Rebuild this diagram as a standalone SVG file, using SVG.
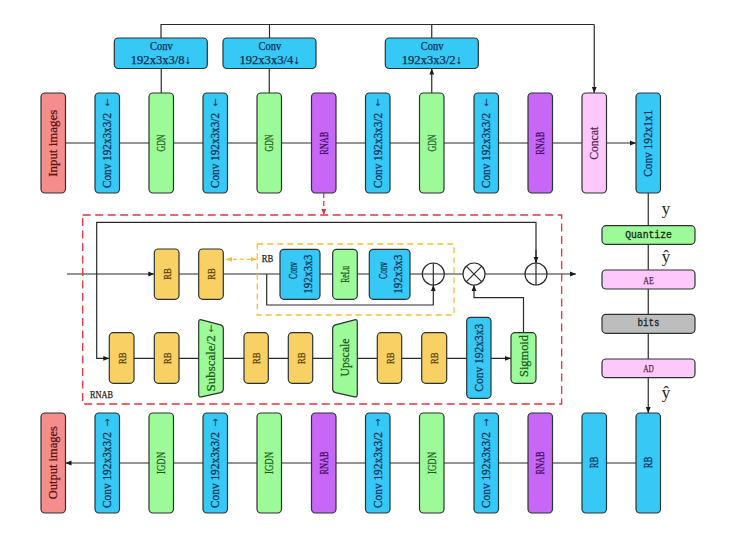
<svg xmlns="http://www.w3.org/2000/svg" width="740" height="557" viewBox="0 0 740 557">
<style>
.n{stroke:#2b3333;stroke-width:1.2}
.blue{fill:#36c9f6}.green{fill:#9cfb98}.purple{fill:#c866f5}.salmon{fill:#f58d8d}.pink{fill:#fcc9fa}.yel{fill:#f8d063}.gray{fill:#bdbdbd}
text{font-family:"Liberation Serif","DejaVu Serif",serif;text-anchor:middle;dominant-baseline:central;stroke-width:0.25px}
.tb{fill:#0a2f55;stroke:#0a2f55;font-size:11.5px}
.tg{fill:#1c5a1c;stroke:#1c5a1c;font-size:11.5px}
.tp{fill:#3f0a5a;stroke:#3f0a5a;font-size:11.5px}
.ts{fill:#5a1414;stroke:#5a1414;font-size:12px}
.tk{fill:#5a1f5a;stroke:#5a1f5a;font-size:12px}
.ty{fill:#5a3e0a;stroke:#5a3e0a;font-size:11px}
.ar{font-size:10px;font-family:"DejaVu Sans",sans-serif;stroke:none}
.mono{font-family:"Liberation Mono","DejaVu Sans Mono",monospace;font-size:10px;fill:#1a2a1a;stroke:#1a2a1a;stroke-width:0.3px}
.lbl{fill:#222;stroke:#222;font-size:11px}
.sym{font-size:17px;fill:#222;stroke:none}
.c{fill:none;stroke:#2b2b2b;stroke-width:1.2}
.ca{fill:none;stroke:#2b2b2b;stroke-width:1.2;marker-end:url(#a)}
.red{fill:none;stroke:#e8323c;stroke-width:1.3;stroke-dasharray:8 4.5}
.ylw{fill:none;stroke:#f2c12e;stroke-width:1.3;stroke-dasharray:6 4}
</style>
<defs>
<marker id="a" viewBox="0 0 10 10" refX="10" refY="5" markerWidth="6" markerHeight="6" markerUnits="userSpaceOnUse" orient="auto"><path d="M0,1L10,5L0,9z" fill="#1a1a1a"/></marker>
<marker id="ar" viewBox="0 0 10 10" refX="10" refY="5" markerWidth="6" markerHeight="6" markerUnits="userSpaceOnUse" orient="auto"><path d="M0,1L10,5L0,9z" fill="#e8323c"/></marker>
<marker id="ay" viewBox="0 0 10 10" refX="10" refY="5" markerWidth="6" markerHeight="6" markerUnits="userSpaceOnUse" orient="auto-start-reverse"><path d="M0,1L10,5L0,9z" fill="#f2c12e"/></marker>
</defs>
<rect width="740" height="557" fill="#fff"/>

<g id="connectors">
<path class="ca" d="M65.5 143H95M119.5 143H149M173.5 143H203M227.5 143H257M281.5 143H311.5M336 143H365.5M390 143H419.5M444 143H474M498.5 143H528M552.5 143H582M606.5 143H636"/>
<path class="ca" d="M161.25 93V68.5M269.25 93V68.5M431.75 93V68.5"/>
<path class="c" d="M161 38V24.5H594.25M269.5 38V24.5M431.75 38V24.5"/>
<path class="ca" d="M594.25 24.5V93"/>
<path class="ca" d="M648.25 193V225.7M648.25 244.3V270M648.25 289V314.3M648.25 333.3V359M648.25 377.7V413"/>
<path class="ca" d="M636 463H606.5M582 463H552.5M528 463H498.5M474 463H444M419.5 463H390M365.5 463H336M311.5 463H281.5M257 463H227.5M203 463H173.5M149 463H119.5M95 463H65.5"/>
<path d="M323.75 193V215" fill="none" stroke="#e8323c" stroke-width="1.3" stroke-dasharray="5 3" marker-end="url(#ar)"/>
<path class="c" d="M96.7 274V222.3H536V263"/>
<path class="ca" d="M536 250V263"/>
<path class="ca" d="M67 274H154.3"/>
<path class="ca" d="M96.7 274V358.3H109.3"/>
<path class="ca" d="M179 274H198.7M223.3 274H280M320 274H332.7M357.3 274H369.3M410 274H422.3M444.3 274H463M485 274H525M547 274H576"/>
<path class="ca" d="M266.7 274V305H433.3V285"/>
<path class="ca" d="M523.5 332.7V297.7H474V285"/>
<path class="ca" d="M134 358.3H154.3M179 358.3H198.7M223.3 358.3H244M268.3 358.3H288.3M312.7 358.3H332.7M357.3 358.3H377.3M401.7 358.3H421.7M446.7 358.3H466.7M491 358.3H511"/>
<path d="M226 259.3H256.5" fill="none" stroke="#f2c12e" stroke-width="1.3" stroke-dasharray="4 3" marker-start="url(#ay)" marker-end="url(#ay)"/>
</g>

<g id="rnab-detail">
<rect class="red" x="82.7" y="215" width="479" height="189"/>
<text class="lbl" x="101.5" y="394" textLength="23" lengthAdjust="spacingAndGlyphs">RNAB</text>
<rect class="ylw" x="257.3" y="244" width="196.7" height="71"/>
<text class="lbl" x="267.5" y="257.5" textLength="11.6" lengthAdjust="spacingAndGlyphs">RB</text>
</g>

<g id="input"><rect class="n salmon" x="41" y="93" width="24.5" height="100" rx="4"/><text class="ts" transform="translate(53.25 143.3) rotate(-90)" textLength="67" lengthAdjust="spacingAndGlyphs">Input images</text></g>
<g id="enc-conv1"><rect class="n blue" x="95" y="93" width="24.5" height="100" rx="4"/><text class="tb" transform="translate(107.25 150.5) rotate(-90)" textLength="75" lengthAdjust="spacingAndGlyphs">Conv 192x3x3/2</text><text class="tb ar" x="107.25" y="102">↓</text></g>
<g id="enc-gdn1"><rect class="n green" x="149" y="93" width="24.5" height="100" rx="4"/><text class="tg" transform="translate(161.25 143) rotate(-90)" textLength="17" lengthAdjust="spacingAndGlyphs">GDN</text></g>
<g id="enc-conv2"><rect class="n blue" x="203" y="93" width="24.5" height="100" rx="4"/><text class="tb" transform="translate(215.25 150.5) rotate(-90)" textLength="75" lengthAdjust="spacingAndGlyphs">Conv 192x3x3/2</text><text class="tb ar" x="215.25" y="102">↓</text></g>
<g id="enc-gdn2"><rect class="n green" x="257" y="93" width="24.5" height="100" rx="4"/><text class="tg" transform="translate(269.25 143) rotate(-90)" textLength="17" lengthAdjust="spacingAndGlyphs">GDN</text></g>
<g id="enc-rnab1"><rect class="n purple" x="311.5" y="93" width="24.5" height="100" rx="4"/><text class="tp" transform="translate(323.75 143.3) rotate(-90)" textLength="23" lengthAdjust="spacingAndGlyphs">RNAB</text></g>
<g id="enc-conv3"><rect class="n blue" x="365.5" y="93" width="24.5" height="100" rx="4"/><text class="tb" transform="translate(377.75 150.5) rotate(-90)" textLength="75" lengthAdjust="spacingAndGlyphs">Conv 192x3x3/2</text><text class="tb ar" x="377.75" y="102">↓</text></g>
<g id="enc-gdn3"><rect class="n green" x="419.5" y="93" width="24.5" height="100" rx="4"/><text class="tg" transform="translate(431.75 143) rotate(-90)" textLength="17" lengthAdjust="spacingAndGlyphs">GDN</text></g>
<g id="enc-conv4"><rect class="n blue" x="474" y="93" width="24.5" height="100" rx="4"/><text class="tb" transform="translate(486.25 150.5) rotate(-90)" textLength="75" lengthAdjust="spacingAndGlyphs">Conv 192x3x3/2</text><text class="tb ar" x="486.25" y="102">↓</text></g>
<g id="enc-rnab2"><rect class="n purple" x="528" y="93" width="24.5" height="100" rx="4"/><text class="tp" transform="translate(540.25 143.3) rotate(-90)" textLength="23" lengthAdjust="spacingAndGlyphs">RNAB</text></g>
<g id="concat"><rect class="n pink" x="582" y="93" width="24.5" height="100" rx="4"/><text class="tk" transform="translate(594.25 143.3) rotate(-90)" textLength="33" lengthAdjust="spacingAndGlyphs">Concat</text></g>
<g id="enc-conv1x1"><rect class="n blue" x="636" y="93" width="24.5" height="100" rx="4"/><text class="tb" transform="translate(648.25 143.3) rotate(-90)" style="font-size:12px" textLength="67" lengthAdjust="spacingAndGlyphs">Conv 192x1x1</text></g>

<g id="side-conv8"><rect class="n blue" x="114.3" y="38" width="93" height="30.5" rx="4"/><text class="tb" x="161.3" y="46.3" style="font-size:12px" textLength="22.7" lengthAdjust="spacingAndGlyphs">Conv</text><text class="tb" x="160.8" y="60" style="font-size:12px" textLength="60" lengthAdjust="spacingAndGlyphs">192x3x3/8↓</text></g>
<g id="side-conv4"><rect class="n blue" x="223" y="38" width="93" height="30.5" rx="4"/><text class="tb" x="269.8" y="46.3" style="font-size:12px" textLength="22.7" lengthAdjust="spacingAndGlyphs">Conv</text><text class="tb" x="269.5" y="60" style="font-size:12px" textLength="60" lengthAdjust="spacingAndGlyphs">192x3x3/4↓</text></g>
<g id="side-conv2"><rect class="n blue" x="385.3" y="38" width="93" height="30.5" rx="4"/><text class="tb" x="432.1" y="46.3" style="font-size:12px" textLength="22.7" lengthAdjust="spacingAndGlyphs">Conv</text><text class="tb" x="431.8" y="60" style="font-size:12px" textLength="60" lengthAdjust="spacingAndGlyphs">192x3x3/2↓</text></g>

<g id="quantize"><rect class="n green" x="602" y="225.7" width="93" height="18.6" rx="4"/><text class="mono" x="648.5" y="235" textLength="46.7" lengthAdjust="spacingAndGlyphs">Quantize</text></g>
<g id="ae"><rect class="n pink" x="602" y="270" width="93" height="19" rx="4"/><text class="tk" x="648.5" y="279.5" style="font-size:11px" textLength="10.5" lengthAdjust="spacingAndGlyphs">AE</text></g>
<g id="bits"><rect class="n gray" x="602" y="314.3" width="93" height="19" rx="4"/><text class="mono" x="648.5" y="323.8" textLength="22" lengthAdjust="spacingAndGlyphs">bits</text></g>
<g id="ad"><rect class="n pink" x="602" y="359" width="93" height="18.7" rx="4"/><text class="tk" x="648.5" y="368.4" style="font-size:11px" textLength="10.5" lengthAdjust="spacingAndGlyphs">AD</text></g>
<g id="labels"><text class="sym" x="666" y="208">y</text><text class="sym" x="666" y="256">ŷ</text><text class="sym" x="666" y="392">ŷ</text></g>

<g id="rb-t1"><rect class="n yel" x="154.3" y="249" width="24.7" height="50.3" rx="4"/><text class="ty" transform="translate(166.65 274) rotate(-90)" textLength="11.5" lengthAdjust="spacingAndGlyphs">RB</text></g>
<g id="rb-t2"><rect class="n yel" x="198.7" y="249" width="24.6" height="50.3" rx="4"/><text class="ty" transform="translate(211 274) rotate(-90)" textLength="11.5" lengthAdjust="spacingAndGlyphs">RB</text></g>
<g id="rb-conv1"><rect class="n blue" x="280" y="249.3" width="40" height="50" rx="4"/><text class="tb" transform="translate(293.3 270.5) rotate(-90)" style="font-size:12px" textLength="17" lengthAdjust="spacingAndGlyphs">Conv</text><text class="tb" transform="translate(308.3 274.3) rotate(-90)" style="font-size:12px" textLength="39" lengthAdjust="spacingAndGlyphs">192x3x3</text></g>
<g id="rb-relu"><rect class="n green" x="332.7" y="249.3" width="24.6" height="50" rx="4"/><text class="tg" transform="translate(345 274.3) rotate(-90)" style="font-size:11.5px" textLength="17" lengthAdjust="spacingAndGlyphs">ReLu</text></g>
<g id="rb-conv2"><rect class="n blue" x="369.3" y="249.3" width="40.7" height="50" rx="4"/><text class="tb" transform="translate(383 270.5) rotate(-90)" style="font-size:12px" textLength="17" lengthAdjust="spacingAndGlyphs">Conv</text><text class="tb" transform="translate(398 274.3) rotate(-90)" style="font-size:12px" textLength="39" lengthAdjust="spacingAndGlyphs">192x3x3</text></g>
<g id="add1"><circle class="c" cx="433.3" cy="274" r="11" fill="#fff"/><path class="c" d="M422.3 274H444.3M433.3 263V285"/></g>
<g id="mul"><circle class="c" cx="474" cy="274" r="11"/><path class="c" d="M466.2 266.2L481.8 281.8M481.8 266.2L466.2 281.8"/></g>
<g id="add2"><circle class="c" cx="536" cy="274" r="11"/><path class="c" d="M525 274H547M536 263V285"/></g>

<g id="rb-b1"><rect class="n yel" x="109.3" y="332.7" width="24.7" height="50.6" rx="4"/><text class="ty" transform="translate(121.65 358.3) rotate(-90)" textLength="11.5" lengthAdjust="spacingAndGlyphs">RB</text></g>
<g id="rb-b2"><rect class="n yel" x="154.3" y="332.7" width="24.7" height="50.6" rx="4"/><text class="ty" transform="translate(166.65 358.3) rotate(-90)" textLength="11.5" lengthAdjust="spacingAndGlyphs">RB</text></g>
<g id="subscale"><path class="n green" d="M198.7 322Q198.7 319 201.5 319.8L220.5 324.8Q223.3 325.5 223.3 328.5V389Q223.3 392 220.5 392.7L201.5 396.8Q198.7 397.4 198.7 394.5Z"/><text class="tg" transform="translate(211 363.4) rotate(-90)" style="font-size:12px" textLength="56" lengthAdjust="spacingAndGlyphs">Subscale/2</text><text class="tg ar" x="211" y="328.5">↓</text></g>
<g id="rb-b3"><rect class="n yel" x="244" y="332.7" width="24.3" height="50.6" rx="4"/><text class="ty" transform="translate(256.15 358.3) rotate(-90)" textLength="11.5" lengthAdjust="spacingAndGlyphs">RB</text></g>
<g id="rb-b4"><rect class="n yel" x="288.3" y="332.7" width="24.4" height="50.6" rx="4"/><text class="ty" transform="translate(300.5 358.3) rotate(-90)" textLength="11.5" lengthAdjust="spacingAndGlyphs">RB</text></g>
<g id="upscale"><path class="n green" d="M332.7 328.5Q332.7 325.5 335.5 324.8L354.5 319.8Q357.3 319 357.3 322V394.5Q357.3 397.4 354.5 396.8L335.5 392.7Q332.7 392 332.7 389Z"/><text class="tg" transform="translate(345 357.5) rotate(-90)" style="font-size:12px" textLength="38" lengthAdjust="spacingAndGlyphs">Upscale</text></g>
<g id="rb-b5"><rect class="n yel" x="377.3" y="332.7" width="24.4" height="50.6" rx="4"/><text class="ty" transform="translate(389.5 358.3) rotate(-90)" textLength="11.5" lengthAdjust="spacingAndGlyphs">RB</text></g>
<g id="rb-b6"><rect class="n yel" x="421.7" y="332.7" width="25" height="50.6" rx="4"/><text class="ty" transform="translate(434.2 358.3) rotate(-90)" textLength="11.5" lengthAdjust="spacingAndGlyphs">RB</text></g>
<g id="att-conv"><rect class="n blue" x="466.7" y="317.3" width="24.3" height="81" rx="4"/><text class="tb" transform="translate(478.85 357.7) rotate(-90)" style="font-size:12px" textLength="68" lengthAdjust="spacingAndGlyphs">Conv 192x3x3</text></g>
<g id="sigmoid"><rect class="n green" x="511" y="332.7" width="25" height="50.6" rx="4"/><text class="tg" transform="translate(523.5 356) rotate(-90)" style="font-size:11.5px" textLength="42" lengthAdjust="spacingAndGlyphs">Sigmoid</text></g>

<g id="output"><rect class="n salmon" x="41" y="413" width="24.5" height="100" rx="4"/><text class="ts" transform="translate(53.25 462.7) rotate(-90)" textLength="73" lengthAdjust="spacingAndGlyphs">Output images</text></g>
<g id="dec-conv1"><rect class="n blue" x="95" y="413" width="24.5" height="100" rx="4"/><text class="tb" transform="translate(107.25 470) rotate(-90)" textLength="76" lengthAdjust="spacingAndGlyphs">Conv 192x3x3/2</text><text class="tb ar" x="107.25" y="422">↑</text></g>
<g id="dec-igdn1"><rect class="n green" x="149" y="413" width="24.5" height="100" rx="4"/><text class="tg" transform="translate(161.25 463) rotate(-90)" textLength="22" lengthAdjust="spacingAndGlyphs">IGDN</text></g>
<g id="dec-conv2"><rect class="n blue" x="203" y="413" width="24.5" height="100" rx="4"/><text class="tb" transform="translate(215.25 470) rotate(-90)" textLength="76" lengthAdjust="spacingAndGlyphs">Conv 192x3x3/2</text><text class="tb ar" x="215.25" y="422">↑</text></g>
<g id="dec-igdn2"><rect class="n green" x="257" y="413" width="24.5" height="100" rx="4"/><text class="tg" transform="translate(269.25 463) rotate(-90)" textLength="22" lengthAdjust="spacingAndGlyphs">IGDN</text></g>
<g id="dec-rnab1"><rect class="n purple" x="311.5" y="413" width="24.5" height="100" rx="4"/><text class="tp" transform="translate(323.75 463) rotate(-90)" textLength="23" lengthAdjust="spacingAndGlyphs">RNAB</text></g>
<g id="dec-conv3"><rect class="n blue" x="365.5" y="413" width="24.5" height="100" rx="4"/><text class="tb" transform="translate(377.75 470) rotate(-90)" textLength="76" lengthAdjust="spacingAndGlyphs">Conv 192x3x3/2</text><text class="tb ar" x="377.75" y="422">↑</text></g>
<g id="dec-igdn3"><rect class="n green" x="419.5" y="413" width="24.5" height="100" rx="4"/><text class="tg" transform="translate(431.75 463) rotate(-90)" textLength="22" lengthAdjust="spacingAndGlyphs">IGDN</text></g>
<g id="dec-conv4"><rect class="n blue" x="474" y="413" width="24.5" height="100" rx="4"/><text class="tb" transform="translate(486.25 470) rotate(-90)" textLength="76" lengthAdjust="spacingAndGlyphs">Conv 192x3x3/2</text><text class="tb ar" x="486.25" y="422">↑</text></g>
<g id="dec-rnab2"><rect class="n purple" x="528" y="413" width="24.5" height="100" rx="4"/><text class="tp" transform="translate(540.25 463) rotate(-90)" textLength="23" lengthAdjust="spacingAndGlyphs">RNAB</text></g>
<g id="dec-rb1"><rect class="n blue" x="582" y="413" width="24.5" height="100" rx="4"/><text class="tb" transform="translate(594.25 462.5) rotate(-90)" textLength="11.6" lengthAdjust="spacingAndGlyphs">RB</text></g>
<g id="dec-rb2"><rect class="n blue" x="636" y="413" width="24.5" height="100" rx="4"/><text class="tb" transform="translate(648.25 462.5) rotate(-90)" textLength="11.6" lengthAdjust="spacingAndGlyphs">RB</text></g>
</svg>
